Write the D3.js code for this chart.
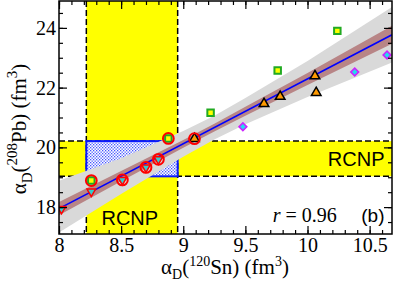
<!DOCTYPE html>
<html>
<head>
    <meta charset="utf-8">
    <script src="https://cdn.jsdelivr.net/npm/d3@7"></script>
    <style>
        body { margin: 0; background: #fff; }
        svg { font-family: 'Liberation Serif', 'Times New Roman', serif; }
    </style>
</head>
<body>
<svg id="chart" width="395" height="289"></svg>
<script>
    // ---- data ----
    var xMajor = [8, 8.5, 9, 9.5, 10, 10.5];
    var xLabels = ["8", "8.5", "9", "9.5", "10", "10.5"];
    var yMajor = [18, 20, 22, 24];
    var yLabels = ["18", "20", "22", "24"];

    // RCNP constraint bands
    var rcnpX = [8.22, 8.955];
    var rcnpY = [19.03, 20.21];

    // linear fit and its bands
    var fitX = [8, 10.68];
    var fitY = [17.95, 23.77];
    var bandX = [8, 8.5, 9, 9.25, 9.5, 10, 10.68];
    var greyHigh = [18.88, 19.64, 20.55, 21.06, 21.65, 22.89, 24.70];
    var greyLow = [17.15, 18.44, 19.69, 20.26, 20.77, 21.69, 22.84];
    var brownHigh = [18.17, 19.21, 20.25, 20.79, 21.36, 22.49, 24.07];
    var brownLow = [17.73, 18.87, 19.99, 20.53, 21.06, 22.09, 23.47];

    // model families
    var squareX = [8.26, 8.88, 9.22, 9.76, 10.24];
    var squareY = [18.89, 20.30, 21.16, 22.57, 23.90];
    var triUpX = [9.09, 9.65, 9.78, 10.06, 10.07];
    var triUpY = [20.29, 21.46, 21.70, 22.39, 21.83];
    var diamondX = [9.48, 10.38, 10.64];
    var diamondY = [20.69, 22.52, 23.09];
    var triDownX = [8.02, 8.26, 8.51, 8.70, 8.80];
    var triDownY = [17.94, 18.52, 18.91, 19.33, 19.60];
    // models compatible with RCNP (red circles)
    var circledX = [8.26, 8.51, 8.70, 8.80, 8.88, 9.09];
    var circledY = [18.89, 18.91, 19.33, 19.60, 20.30, 20.29];

    // ---- layout ----
    var pL = 59, pR = 392, pT = 1, pB = 234;
    var svg = d3.select("#chart");

    var x = d3.scaleLinear().domain([8, 10.68]).range([pL, pR]);
    var y = d3.scaleLinear().domain([17.1, 24.9]).range([pB, pT]);

    var defs = svg.append("defs");
    defs.append("clipPath").attr("id", "plotclip")
        .append("rect")
        .attr("x", pL).attr("y", pT)
        .attr("width", pR - pL).attr("height", pB - pT);

    // blue checker hatch
    var pat = defs.append("pattern")
        .attr("id", "hatch")
        .attr("patternUnits", "userSpaceOnUse")
        .attr("width", 3).attr("height", 3);
    pat.append("rect").attr("width", 3).attr("height", 3).attr("fill", "#ffffff");
    pat.append("rect").attr("width", 1.3).attr("height", 1.3).attr("fill", "#4455ff");
    pat.append("rect").attr("x", 1.5).attr("y", 1.5).attr("width", 1.3).attr("height", 1.3).attr("fill", "#4455ff");

    var plot = svg.append("g").attr("clip-path", "url(#plotclip)");

    // yellow bands
    plot.append("rect")
        .attr("x", x(rcnpX[0])).attr("y", pT)
        .attr("width", x(rcnpX[1]) - x(rcnpX[0])).attr("height", pB - pT)
        .attr("fill", "#ffff00");
    plot.append("rect")
        .attr("x", pL).attr("y", y(rcnpY[1]))
        .attr("width", pR - pL).attr("height", y(rcnpY[0]) - y(rcnpY[1]))
        .attr("fill", "#ffff00");

    // dashed borders
    rcnpX.forEach(function (v) {
        plot.append("line")
            .attr("x1", x(v)).attr("x2", x(v))
            .attr("y1", pT).attr("y2", pB)
            .attr("stroke", "#000").attr("stroke-width", 1.5)
            .attr("stroke-dasharray", "6,3");
    });
    rcnpY.forEach(function (v) {
        plot.append("line")
            .attr("x1", pL).attr("x2", pR)
            .attr("y1", y(v)).attr("y2", y(v))
            .attr("stroke", "#000").attr("stroke-width", 1.5)
            .attr("stroke-dasharray", "6,3");
    });

    // hatched intersection
    plot.append("rect")
        .attr("x", x(rcnpX[0])).attr("y", y(rcnpY[1]))
        .attr("width", x(rcnpX[1]) - x(rcnpX[0]))
        .attr("height", y(rcnpY[0]) - y(rcnpY[1]))
        .attr("fill", "url(#hatch)")
        .attr("stroke", "#0a1aff").attr("stroke-width", 2);

    // fit bands
    var area = d3.area()
        .x(function (d) { return x(d.x); })
        .y0(function (d) { return y(d.lo); })
        .y1(function (d) { return y(d.hi); });

    var greyData = bandX.map(function (v, i) { return { x: v, lo: greyLow[i], hi: greyHigh[i] }; });
    var brownData = bandX.map(function (v, i) { return { x: v, lo: brownLow[i], hi: brownHigh[i] }; });

    plot.append("path").datum(greyData).attr("d", area).attr("fill", "#d9d9d9");
    plot.append("path").datum(brownData).attr("d", area).attr("fill", "#b88586");

    var line = d3.line().x(function (d) { return x(d[0]); }).y(function (d) { return y(d[1]); });
    plot.append("path")
        .datum(fitX.map(function (v, i) { return [v, fitY[i]]; }))
        .attr("d", line)
        .attr("fill", "none")
        .attr("stroke", "#0000ff")
        .attr("stroke-width", 1.6);

    // markers
    function drawMarkers(xs, ys, type, size, fill, stroke, rot, sw) {
        plot.selectAll(null)
            .data(xs.map(function (v, i) { return [v, ys[i]]; }))
            .enter().append("path")
            .attr("d", d3.symbol().type(type).size(size))
            .attr("transform", function (d) {
                return "translate(" + x(d[0]) + "," + y(d[1]) + ")" + (rot ? " rotate(" + rot + ")" : "");
            })
            .attr("fill", fill)
            .attr("stroke", stroke)
            .attr("stroke-width", sw);
    }

    drawMarkers(triDownX, triDownY, d3.symbolTriangle, 32, "#33cccc", "#ff0000", 180, 1.5);
    drawMarkers(diamondX, diamondY, d3.symbolSquare, 30, "#22ddee", "#cc22ff", 45, 1.6);
    drawMarkers(triUpX, triUpY, d3.symbolTriangle, 40, "#ff9900", "#000000", 0, 1.5);
    drawMarkers(squareX, squareY, d3.symbolSquare, 42, "#ffff00", "#22aa22", 0, 2);

    plot.selectAll(null)
        .data(circledX.map(function (v, i) { return [v, circledY[i]]; }))
        .enter().append("circle")
        .attr("cx", function (d) { return x(d[0]); })
        .attr("cy", function (d) { return y(d[1]); })
        .attr("r", 5.4)
        .attr("fill", "none")
        .attr("stroke", "#ff0000")
        .attr("stroke-width", 2);

    // annotations
    svg.append("text")
        .attr("x", x(8.57)).attr("y", pB - 9)
        .attr("text-anchor", "middle")
        .style("font-family", "'Liberation Sans', Arial, sans-serif")
        .style("font-size", "20px")
        .text("RCNP");
    svg.append("text")
        .attr("x", x(10.62)).attr("y", y(rcnpY[0]) - 10)
        .attr("text-anchor", "end")
        .style("font-family", "'Liberation Sans', Arial, sans-serif")
        .style("font-size", "20px")
        .text("RCNP");

    var rt = svg.append("text")
        .attr("x", x(9.72)).attr("y", pB - 12)
        .attr("text-anchor", "start")
        .style("font-size", "20px");
    rt.append("tspan").style("font-style", "italic").text("r");
    rt.append("tspan").text(" = 0.96");

    svg.append("text")
        .attr("x", x(10.62)).attr("y", pB - 12)
        .attr("text-anchor", "end")
        .style("font-family", "'Liberation Sans', Arial, sans-serif")
        .style("font-size", "19px")
        .text("(b)");

    // ---- axes ----
    var xMinor = d3.range(80, 107).map(function (v) { return v / 10; });
    var yMinor = d3.range(35, 50).map(function (v) { return v / 2; });

    function styleAxis(g) {
        g.select(".domain").remove();
        g.selectAll(".tick line").attr("stroke", "#000").attr("stroke-width", 1.2);
        g.selectAll("text").style("font-size", "20px")
            .style("font-family", "'Liberation Serif', 'Times New Roman', serif")
            .attr("fill", "#000");
    }

    svg.append("g").attr("transform", "translate(0," + pB + ")")
        .call(d3.axisBottom(x).tickValues(xMinor).tickSize(-4).tickFormat(""))
        .call(styleAxis);
    svg.append("g").attr("transform", "translate(0," + pB + ")")
        .call(d3.axisBottom(x).tickValues(xMajor).tickSize(-8).tickPadding(4)
            .tickFormat(function (d, i) { return xLabels[i]; }))
        .call(styleAxis);
    svg.append("g").attr("transform", "translate(0," + pT + ")")
        .call(d3.axisTop(x).tickValues(xMinor).tickSize(-4).tickFormat(""))
        .call(styleAxis);
    svg.append("g").attr("transform", "translate(0," + pT + ")")
        .call(d3.axisTop(x).tickValues(xMajor).tickSize(-8).tickFormat(""))
        .call(styleAxis);

    svg.append("g").attr("transform", "translate(" + pL + ",0)")
        .call(d3.axisLeft(y).tickValues(yMinor).tickSize(-4).tickFormat(""))
        .call(styleAxis);
    svg.append("g").attr("transform", "translate(" + pL + ",0)")
        .call(d3.axisLeft(y).tickValues(yMajor).tickSize(-8).tickPadding(3)
            .tickFormat(function (d, i) { return yLabels[i]; }))
        .call(styleAxis);
    svg.append("g").attr("transform", "translate(" + pR + ",0)")
        .call(d3.axisRight(y).tickValues(yMinor).tickSize(-4).tickFormat(""))
        .call(styleAxis);
    svg.append("g").attr("transform", "translate(" + pR + ",0)")
        .call(d3.axisRight(y).tickValues(yMajor).tickSize(-8).tickFormat(""))
        .call(styleAxis);

    // frame
    svg.append("rect")
        .attr("x", pL).attr("y", pT)
        .attr("width", pR - pL).attr("height", pB - pT)
        .attr("fill", "none").attr("stroke", "#000").attr("stroke-width", 1.5);

    // axis titles
    var xt = svg.append("text")
        .attr("x", 225).attr("y", 274)
        .attr("text-anchor", "middle")
        .style("font-size", "21px");
    xt.append("tspan").text("\u03b1");
    xt.append("tspan").attr("dy", 5).style("font-size", "14px").text("D");
    xt.append("tspan").attr("dy", -5).text("(");
    xt.append("tspan").attr("dy", -8).style("font-size", "14px").text("120");
    xt.append("tspan").attr("dy", 8).text("Sn) (fm");
    xt.append("tspan").attr("dy", -8).style("font-size", "14px").text("3");
    xt.append("tspan").attr("dy", 8).text(")");

    var yt = svg.append("text")
        .attr("transform", "translate(26,129) rotate(-90)")
        .attr("text-anchor", "middle")
        .style("font-size", "21px");
    yt.append("tspan").text("\u03b1");
    yt.append("tspan").attr("dy", 6).style("font-size", "15px").text("D");
    yt.append("tspan").attr("dy", -6).text("(");
    yt.append("tspan").attr("dy", -9).style("font-size", "15px").text("208");
    yt.append("tspan").attr("dy", 9).text("Pb) (fm");
    yt.append("tspan").attr("dy", -9).style("font-size", "15px").text("3");
    yt.append("tspan").attr("dy", 9).text(")");
</script>
</body>
</html>
